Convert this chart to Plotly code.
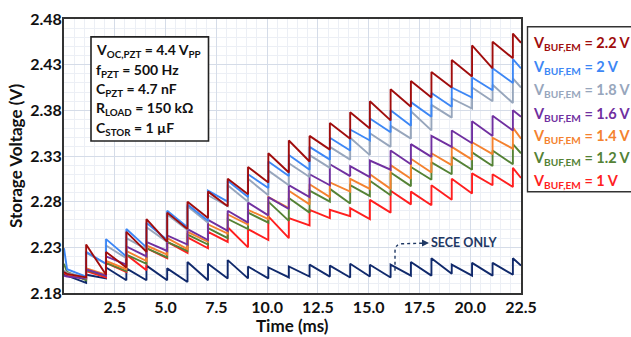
import plotly.graph_objects as go

# ---------------- data ----------------
t_jump = [1.09, 2.07, 3.07, 4.06, 5.08, 6.08, 7.09, 8.06, 9.06, 10.06, 11.07,
          12.09, 13.09, 14.09, 15.06, 16.08, 17.08, 18.09, 19.09, 20.09, 21.10, 22.10]
t_settle = 0.15
t_end = 22.5

series_names = ["SECE ONLY", "V_BUF,EM = 1 V", "V_BUF,EM = 1.2 V", "V_BUF,EM = 1.4 V",
                "V_BUF,EM = 1.6 V", "V_BUF,EM = 1.8 V", "V_BUF,EM = 2 V", "V_BUF,EM = 2.2 V"]

# start value, settled value, value just before first jump
v_start  = [2.200, 2.202, 2.212, 2.204, 2.199, 2.205, 2.229, 2.203]
v_settle = [2.199, 2.200, 2.203, 2.201, 2.198, 2.202, 2.206, 2.201]
v_pre1   = [2.191, 2.195, 2.194, 2.196, 2.196, 2.197, 2.198, 2.197]

# peak right after each jump / value just before the next jump (or end)
sece_peak   = [2.200, 2.208, 2.207, 2.210, 2.207, 2.214, 2.212, 2.216, 2.209, 2.208, 2.209,
               2.211, 2.210, 2.212, 2.211, 2.211, 2.214, 2.218, 2.211, 2.213, 2.213, 2.218]
sece_trough = [2.196, 2.194, 2.194, 2.194, 2.192, 2.194, 2.196, 2.196, 2.196, 2.197, 2.198,
               2.198, 2.197, 2.198, 2.197, 2.199, 2.199, 2.201, 2.199, 2.199, 2.200, 2.210]

red_peak   = [2.204, 2.213, 2.222, 2.229, 2.236, 2.241, 2.247, 2.252, 2.250, 2.264, 2.262,
              2.271, 2.271, 2.273, 2.282, 2.292, 2.291, 2.298, 2.305, 2.311, 2.310, 2.317]
red_trough = [2.197, 2.203, 2.205, 2.218, 2.224, 2.229, 2.236, 2.230, 2.238, 2.240, 2.254,
              2.262, 2.264, 2.261, 2.268, 2.277, 2.276, 2.282, 2.289, 2.298, 2.296, 2.306]

green_peak   = [2.205, 2.213, 2.222, 2.229, 2.236, 2.244, 2.251, 2.261, 2.268, 2.280, 2.284,
                2.292, 2.294, 2.298, 2.303, 2.312, 2.318, 2.323, 2.329, 2.334, 2.336, 2.343]
green_trough = [2.199, 2.204, 2.212, 2.219, 2.226, 2.233, 2.240, 2.250, 2.257, 2.259, 2.268,
                2.280, 2.278, 2.286, 2.287, 2.297, 2.304, 2.310, 2.315, 2.319, 2.321, 2.333]

orange_peak   = [2.207, 2.215, 2.226, 2.232, 2.240, 2.247, 2.255, 2.266, 2.271, 2.285, 2.292,
                 2.299, 2.301, 2.305, 2.310, 2.320, 2.327, 2.333, 2.340, 2.345, 2.350, 2.361]
orange_trough = [2.200, 2.206, 2.215, 2.222, 2.228, 2.236, 2.245, 2.255, 2.261, 2.273, 2.277,
                 2.285, 2.291, 2.294, 2.294, 2.305, 2.312, 2.320, 2.326, 2.332, 2.338, 2.349]

purple_peak   = [2.206, 2.220, 2.231, 2.236, 2.243, 2.250, 2.260, 2.270, 2.279, 2.285, 2.298,
                 2.310, 2.321, 2.319, 2.325, 2.336, 2.343, 2.352, 2.358, 2.368, 2.374, 2.380]
purple_trough = [2.199, 2.211, 2.220, 2.226, 2.233, 2.238, 2.248, 2.257, 2.265, 2.272, 2.285,
                 2.298, 2.308, 2.307, 2.315, 2.321, 2.329, 2.340, 2.344, 2.352, 2.358, 2.373]

gray_peak   = [2.224, 2.232, 2.240, 2.252, 2.266, 2.275, 2.287, 2.298, 2.305, 2.314, 2.322,
               2.331, 2.340, 2.350, 2.355, 2.363, 2.379, 2.386, 2.393, 2.405, 2.408, 2.415]
gray_trough = [2.212, 2.218, 2.228, 2.236, 2.249, 2.257, 2.275, 2.280, 2.287, 2.298, 2.307,
               2.317, 2.326, 2.331, 2.340, 2.349, 2.358, 2.372, 2.382, 2.390, 2.388, 2.405]

blue_peak   = [2.225, 2.239, 2.250, 2.257, 2.270, 2.277, 2.292, 2.303, 2.310, 2.324, 2.331,
               2.340, 2.350, 2.359, 2.371, 2.380, 2.389, 2.399, 2.405, 2.416, 2.426, 2.436]
blue_trough = [2.212, 2.220, 2.230, 2.238, 2.252, 2.259, 2.280, 2.285, 2.295, 2.308, 2.315,
               2.326, 2.336, 2.347, 2.356, 2.363, 2.373, 2.384, 2.394, 2.402, 2.410, 2.426]

dred_peak   = [2.233, 2.225, 2.247, 2.261, 2.268, 2.280, 2.291, 2.305, 2.318, 2.333, 2.347,
               2.352, 2.366, 2.378, 2.390, 2.403, 2.412, 2.422, 2.435, 2.451, 2.455, 2.464]
dred_trough = [2.200, 2.208, 2.225, 2.236, 2.250, 2.262, 2.275, 2.288, 2.301, 2.312, 2.324,
               2.337, 2.349, 2.360, 2.369, 2.384, 2.394, 2.405, 2.417, 2.426, 2.437, 2.454]

peaks   = [sece_peak, red_peak, green_peak, orange_peak, purple_peak, gray_peak, blue_peak, dred_peak]
troughs = [sece_trough, red_trough, green_trough, orange_trough, purple_trough, gray_trough, blue_trough, dred_trough]

colors = ["#10296B", "#FF1F1F", "#548235", "#F4822F", "#7030A0", "#97A6BC", "#3D87F5", "#A00D0D"]

x_tick_vals = [2.5, 5.0, 7.5, 10.0, 12.5, 15.0, 17.5, 20.0, 22.5]
x_tick_text = ["2.5", "5.0", "7.5", "10.0", "12.5", "15.0", "17.5", "20.0", "22.5"]
y_tick_vals = [2.18, 2.23, 2.28, 2.33, 2.38, 2.43, 2.48]
y_tick_text = ["2.18", "2.23", "2.28", "2.33", "2.38", "2.43", "2.48"]

legend_labels = ["V<sub>BUF,EM</sub> = 2.2 V", "V<sub>BUF,EM</sub> = 2 V", "V<sub>BUF,EM</sub> = 1.8 V",
                 "V<sub>BUF,EM</sub> = 1.6 V", "V<sub>BUF,EM</sub> = 1.4 V", "V<sub>BUF,EM</sub> = 1.2 V",
                 "V<sub>BUF,EM</sub> = 1 V"]
legend_colors = ["#A00D0D", "#3D87F5", "#97A6BC", "#7030A0", "#F4822F", "#548235", "#FF1F1F"]

info_lines = ["V<sub>OC,PZT</sub> = 4.4 V<sub>PP</sub>", "f<sub>PZT</sub> = 500 Hz",
              "C<sub>PZT</sub> = 4.7 nF", "R<sub>LOAD</sub> = 150 kΩ", "C<sub>STOR</sub> = 1 µF"]

# ---------------- figure ----------------
W, H = 631, 337
ML, MR, MT, MB = 64, 110, 9, 44
PW, PH = W - ML - MR, H - MT - MB


def px(xp):
    return (xp - ML) / PW


def py(yp):
    return (H - MB - yp) / PH


def b(s):
    return "<b>" + s + "</b>"


FONT = "Lato"
fig = go.Figure()

for i in range(len(series_names)):
    xs = [0.0, t_settle, t_jump[0]]
    ys = [v_start[i], v_settle[i], v_pre1[i]]
    for k in range(len(t_jump)):
        nxt = t_jump[k + 1] if k + 1 < len(t_jump) else t_end
        xs += [t_jump[k], nxt]
        ys += [peaks[i][k], troughs[i][k]]
    fig.add_trace(go.Scatter(x=xs, y=ys, mode="lines", name=series_names[i],
                             line=dict(color=colors[i], width=1.9), showlegend=False,
                             hoverinfo="skip"))

fig.update_xaxes(range=[0, 22.5], tickvals=x_tick_vals, ticktext=[b(t) for t in x_tick_text],
                 showgrid=True, gridcolor="#D5DCE8", gridwidth=1.2,
                 minor=dict(dtick=0.5, showgrid=True, gridcolor="#ECEFF5", gridwidth=1, ticks=""),
                 showline=True, linecolor="#333333", linewidth=1.8, mirror=True,
                 zeroline=False, ticks="", ticklen=0, ticklabelstandoff=-1,
                 tickfont=dict(family=FONT, size=16, color="#111111"))
fig.update_yaxes(range=[2.18, 2.48], tickvals=y_tick_vals, ticktext=[b(t) for t in y_tick_text],
                 showgrid=True, gridcolor="#D5DCE8", gridwidth=1.2,
                 minor=dict(dtick=0.01, tick0=2.18, showgrid=True, gridcolor="#ECEFF5", gridwidth=1, ticks=""),
                 showline=True, linecolor="#333333", linewidth=1.8, mirror=True,
                 zeroline=False, ticks="", ticklen=0, ticklabelstandoff=-3,
                 tickfont=dict(family=FONT, size=16, color="#111111"))

annotations = []
# axis titles
annotations.append(dict(text=b("Time (ms)"), x=px(292), y=py(326.5), xref="paper", yref="paper",
                        showarrow=False, xanchor="center", yanchor="middle",
                        font=dict(family=FONT, size=17, color="#111111")))
annotations.append(dict(text=b("Storage Voltage (V)"), x=px(15), y=py(151), xref="paper", yref="paper",
                        showarrow=False, xanchor="center", yanchor="middle", textangle=-90,
                        font=dict(family=FONT, size=17, color="#111111")))
# info box text
info_y = [42, 62, 82, 102, 122]
for line, yy in zip(info_lines, info_y):
    annotations.append(dict(text=b(line), x=px(93.5), y=py(yy), xref="paper", yref="paper",
                            showarrow=False, xanchor="left", yanchor="middle", align="left",
                            font=dict(family=FONT, size=14, color="#111111")))
# legend labels
leg_y = [34, 59, 83, 108, 131, 154, 177]
for lab, col, yy in zip(legend_labels, legend_colors, leg_y):
    annotations.append(dict(text=b(lab), x=px(531), y=py(yy), xref="paper", yref="paper",
                            showarrow=False, xanchor="left", yanchor="middle",
                            font=dict(family=FONT, size=14.5, color=col)))
# SECE ONLY label
annotations.append(dict(text=b("SECE ONLY"), x=px(464), y=py(241), xref="paper", yref="paper",
                        showarrow=False, xanchor="center", yanchor="middle",
                        font=dict(family=FONT, size=12.5, color="#1F3864")))
# arrow head of dashed arrow
annotations.append(dict(text="", x=px(429), y=py(241.3), ax=-5, ay=0,
                        xref="paper", yref="paper", axref="pixel", ayref="pixel",
                        showarrow=True, arrowhead=2, arrowsize=1, arrowwidth=1.4,
                        arrowcolor="#1F3864"))
fig.update_layout(annotations=annotations)

shapes = []
# info box
shapes.append(dict(type="rect", xref="paper", yref="paper", x0=px(91), x1=px(208.5),
                   y0=py(135.5), y1=py(27.5), line=dict(color="#222222", width=1.6),
                   fillcolor="white", layer="above"))
# legend box
shapes.append(dict(type="rect", xref="paper", yref="paper", x0=px(527.5), x1=px(640),
                   y0=py(188), y1=py(17), line=dict(color="#333333", width=1.4),
                   fillcolor="rgba(0,0,0,0)"))
# dashed curved arrow path
path = "M {:.4f},{:.4f} L {:.4f},{:.4f} Q {:.4f},{:.4f} {:.4f},{:.4f} L {:.4f},{:.4f}".format(
    px(395), py(270), px(395), py(250), px(395), py(242.3), px(402), py(242), px(425), py(241.3))
shapes.append(dict(type="path", xref="paper", yref="paper", path=path,
                   line=dict(color="#1F3864", width=1.4, dash="dot")))
fig.update_layout(shapes=shapes)

fig.update_layout(width=W, height=H, margin=dict(l=ML, r=MR, t=MT, b=MB),
                  paper_bgcolor="white", plot_bgcolor="white",
                  font=dict(family=FONT))

fig.write_html("out.html", config={"displayModeBar": False},
               post_script="document.body.style.margin='0px';document.body.style.padding='0px';")
